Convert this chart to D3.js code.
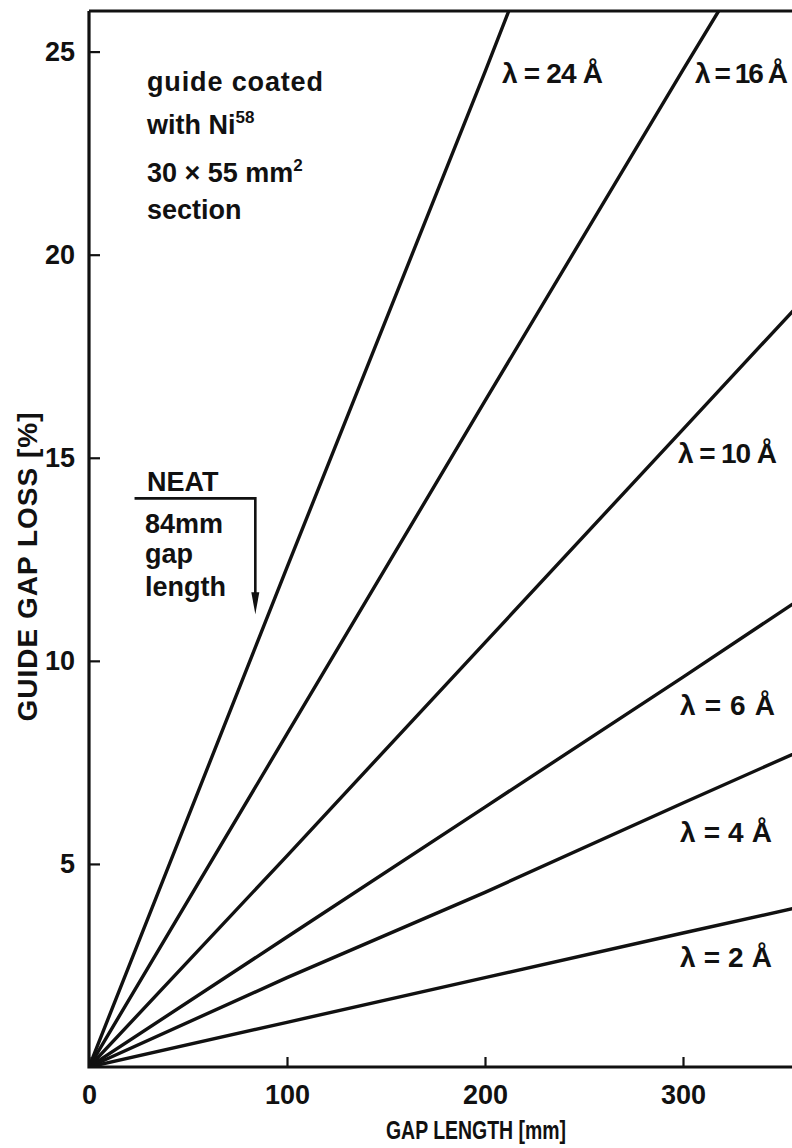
<!DOCTYPE html>
<html>
<head>
<meta charset="utf-8">
<script src="https://cdn.jsdelivr.net/npm/d3@7"></script>
<style>
  body { margin: 0; background: #fff; }
  svg { display: block; }
</style>
</head>
<body>
<div id="chart"></div>
<script>
// Values: gap length [mm] and guide gap loss [%]
const gap2 = [0, 100, 200, 300, 360];
const loss2 = [0, 1.1, 2.2, 3.3, 3.95];
const gap4 = [0, 100, 200, 300, 360];
const loss4 = [0, 2.2, 4.3, 6.5, 7.8];
const gap6 = [0, 100, 200, 300, 360];
const loss6 = [0, 3.2, 6.4, 9.6, 11.55];
const gap10 = [0, 100, 200, 300, 360];
const loss10 = [0, 5.2, 10.45, 15.7, 18.85];
const gap16 = [0, 100, 200, 300, 318];
const loss16 = [0, 8.2, 16.4, 24.55, 26];
const gap24 = [0, 100, 200, 212];
const loss24 = [0, 12.3, 24.5, 26];

const wavelengths = ["24", "16", "10", "6", "4", "2"];
const xTicks = [0, 100, 200, 300];
const yTicks = [5, 10, 15, 20, 25];

// NEAT annotation: 84 mm gap length
const neatGap = 84;
const neatTop = 14.0;
const neatTip = 11.15;
const neatStart = 23;

const series = [
  { lambda: wavelengths[0], gap: gap24, loss: loss24 },
  { lambda: wavelengths[1], gap: gap16, loss: loss16 },
  { lambda: wavelengths[2], gap: gap10, loss: loss10 },
  { lambda: wavelengths[3], gap: gap6, loss: loss6 },
  { lambda: wavelengths[4], gap: gap4, loss: loss4 },
  { lambda: wavelengths[5], gap: gap2, loss: loss2 }
];

const width = 792, height = 1148;
const font = "'Liberation Sans Narrow', 'Liberation Sans', Arial, sans-serif";
const numFont = "'Liberation Sans', Arial, sans-serif";

const svg = d3.select("#chart").append("svg")
  .attr("width", width)
  .attr("height", height)
  .attr("viewBox", [0, 0, width, height]);

const x = d3.scaleLinear().domain([0, 360]).range([89, 89 + 360 * 1.98]);
const y = d3.scaleLinear().domain([0, 26]).range([1067, 11]);

svg.append("defs").append("clipPath").attr("id", "plot-clip")
  .append("rect")
  .attr("x", x(0)).attr("y", y(26))
  .attr("width", x(360) - x(0)).attr("height", y(0) - y(26));

// Curves
const line = d3.line().x(d => x(d[0])).y(d => y(d[1]));
svg.append("g").attr("clip-path", "url(#plot-clip)")
  .selectAll("path")
  .data(series)
  .join("path")
  .attr("d", s => line(s.gap.map((g, i) => [g, s.loss[i]])))
  .attr("fill", "none")
  .attr("stroke", "#111")
  .attr("stroke-width", 3.4);

// Axes with inward ticks
const yAxis = svg.append("g")
  .attr("transform", `translate(${x(0)},0)`)
  .call(d3.axisLeft(y).tickValues(yTicks).tickSize(-11).tickPadding(14).tickFormat(d3.format("d")));
const xAxis = svg.append("g")
  .attr("transform", `translate(0,${y(0)})`)
  .call(d3.axisBottom(x).tickValues(xTicks).tickSize(-10).tickPadding(18).tickFormat(d3.format("d")));

[yAxis, xAxis].forEach(ax => {
  ax.select(".domain").remove();
  ax.selectAll(".tick line").attr("stroke", "#111").attr("stroke-width", 2.2);
  ax.selectAll(".tick text")
    .attr("fill", "#111")
    .attr("font-family", numFont)
    .attr("font-size", "27px")
    .attr("font-weight", "bold");
});

// Frame: left, bottom and top lines
const frame = svg.append("g").attr("stroke", "#111").attr("stroke-width", 3.2).attr("fill", "none");
frame.append("path").attr("d", `M${x(0)},${y(26)}V${y(0)}H${width}`);
frame.append("path").attr("d", `M${x(0)},${y(26)}H${width}`);

// Axis titles
svg.append("text")
  .attr("x", 476).attr("y", 1139)
  .attr("text-anchor", "middle")
  .attr("font-family", font).attr("font-size", "26px").attr("font-weight", "bold")
  .attr("textLength", 180).attr("lengthAdjust", "spacingAndGlyphs")
  .attr("fill", "#111")
  .text("GAP LENGTH [mm]");

svg.append("text")
  .attr("transform", "translate(37,567) rotate(-90)")
  .attr("text-anchor", "middle")
  .attr("font-family", font).attr("font-size", "28px").attr("font-weight", "bold")
  .attr("textLength", 309).attr("lengthAdjust", "spacing")
  .attr("fill", "#111")
  .text("GUIDE GAP LOSS [%]");

// Wavelength labels
const labelPos = [
  { x: 502, y: 83, w: 101 },
  { x: 695, y: 83, w: 93 },
  { x: 678, y: 463, w: 99 },
  { x: 680, y: 715, w: 95 },
  { x: 680, y: 842, w: 92 },
  { x: 680, y: 967, w: 92 }
];
svg.append("g")
  .selectAll("text")
  .data(series)
  .join("text")
  .attr("x", (s, i) => labelPos[i].x)
  .attr("y", (s, i) => labelPos[i].y)
  .attr("textLength", (s, i) => labelPos[i].w)
  .attr("lengthAdjust", "spacing")
  .attr("font-family", font).attr("font-size", "28px").attr("font-weight", "bold")
  .attr("fill", "#111")
  .text(s => `λ = ${s.lambda} Å`);

// Note block in upper left
const note = svg.append("g")
  .attr("font-family", font).attr("font-size", "27px").attr("font-weight", "bold")
  .attr("fill", "#111");
note.append("text").attr("x", 147).attr("y", 91)
  .attr("textLength", 176).attr("lengthAdjust", "spacing")
  .text("guide  coated");
const t2 = note.append("text").attr("x", 147).attr("y", 134);
t2.append("tspan").text("with  Ni");
t2.append("tspan").attr("dy", -11).attr("font-size", "17px").text("58");
const t3 = note.append("text").attr("x", 147).attr("y", 182);
t3.append("tspan").text("30 × 55 mm");
t3.append("tspan").attr("dy", -11).attr("font-size", "17px").text("2");
note.append("text").attr("x", 147).attr("y", 219).text("section");

// NEAT annotation
const neat = svg.append("g").attr("fill", "#111")
  .attr("font-family", font).attr("font-size", "27px").attr("font-weight", "bold");
neat.append("text").attr("x", 147).attr("y", 491).text("NEAT");
neat.append("text").attr("x", 145).attr("y", 533).text("84mm");
neat.append("text").attr("x", 145).attr("y", 563).text("gap");
neat.append("text").attr("x", 145).attr("y", 596).text("length");
neat.append("path")
  .attr("d", `M${x(neatStart)},${y(neatTop)}H${x(neatGap)}V${y(neatTip) - 18}`)
  .attr("fill", "none").attr("stroke", "#111").attr("stroke-width", 2.6);
neat.append("path")
  .attr("d", `M${x(neatGap) - 4},${y(neatTip) - 22}L${x(neatGap) + 4},${y(neatTip) - 22}L${x(neatGap)},${y(neatTip)}Z`)
  .attr("fill", "#111");
</script>
</body>
</html>
